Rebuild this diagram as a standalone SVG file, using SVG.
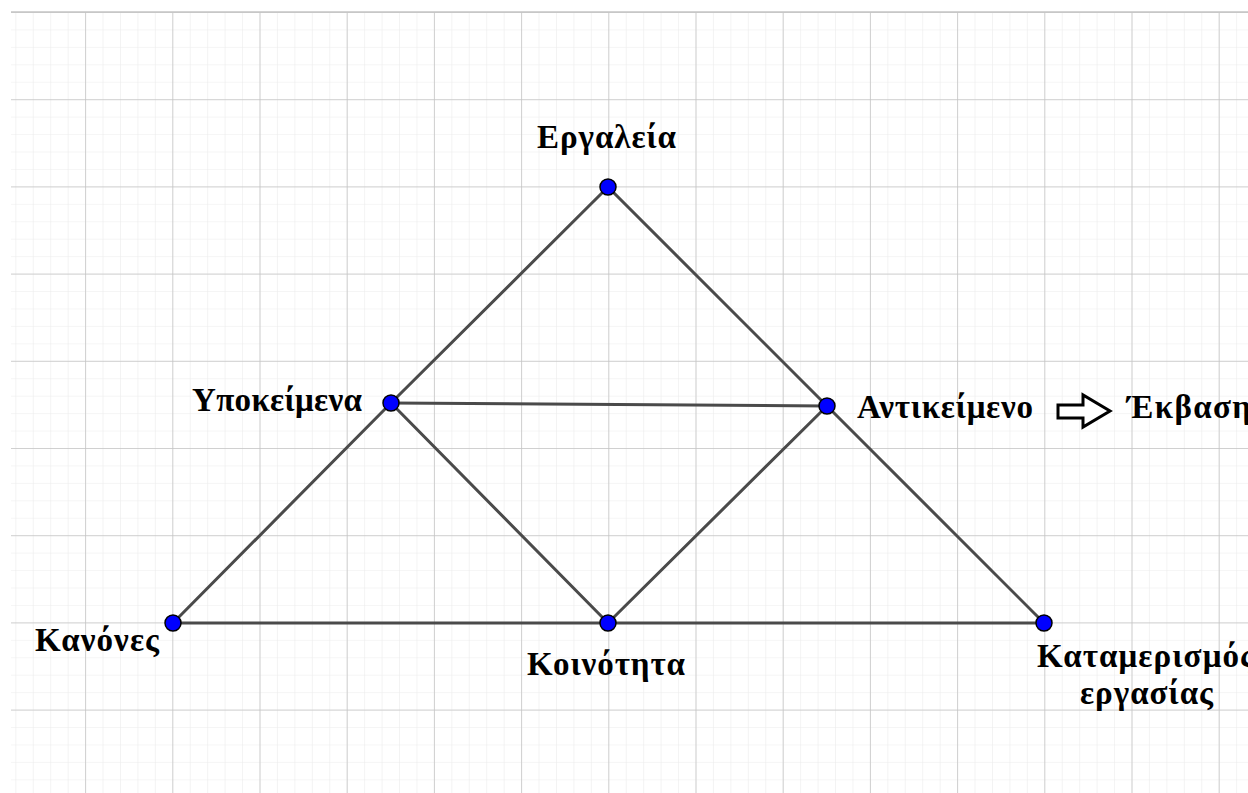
<svg xmlns="http://www.w3.org/2000/svg" width="1248" height="793" viewBox="0 0 1248 793">
<defs>
<pattern id="minor" x="-2.1" y="12" width="17.44" height="17.44" patternUnits="userSpaceOnUse">
<path d="M0 0H17.44M0 0V17.44" fill="none" stroke="#ececec" stroke-width="1.2"/>
</pattern>
<pattern id="major" x="-2.1" y="12" width="87.2" height="87.2" patternUnits="userSpaceOnUse">
<path d="M0 0H87.2M0 0V87.2" fill="none" stroke="#c4c4c4" stroke-width="1.5"/>
</pattern>
</defs>
<style>
.edge{stroke:#4a4a4a;stroke-width:3;fill:none;stroke-linecap:round}
.pt{fill:#0000ff;stroke:#000;stroke-width:1.5}
.lbl{font-family:"Liberation Serif","Times New Roman",serif;font-weight:bold;font-size:33px;fill:#000}
</style>
<rect width="1248" height="793" fill="#fff"/>
<rect x="11" y="12" width="1237" height="781" fill="url(#minor)"/>
<rect x="11" y="12" width="1237" height="781" fill="url(#major)"/>
<line x1="11" y1="12" x2="1248" y2="12" stroke="#c4c4c4" stroke-width="1.5"/>
<g id="connectors">
<line class="edge" x1="608" y1="187" x2="391" y2="403"/>
<line class="edge" x1="391" y1="403" x2="173" y2="623"/>
<line class="edge" x1="608" y1="187" x2="827" y2="406"/>
<line class="edge" x1="827" y1="406" x2="1044" y2="623"/>
<line class="edge" x1="391" y1="403" x2="827" y2="406"/>
<line class="edge" x1="391" y1="403" x2="608" y2="623"/>
<line class="edge" x1="827" y1="406" x2="608" y2="623"/>
<line class="edge" x1="173" y1="623" x2="1044" y2="623"/>
<path d="M1058 405H1083V395L1110 411L1083 427V418H1058Z" fill="#fff" stroke="#000" stroke-width="3" stroke-linejoin="miter"/>
</g>
<g id="n-tools"><circle class="pt" cx="608" cy="187" r="8"/><text class="lbl" x="537" y="148" textLength="139">Εργαλεία</text></g>
<g id="n-subjects"><circle class="pt" cx="391" cy="403" r="8"/><text class="lbl" x="192" y="411" textLength="170">Υποκείμενα</text></g>
<g id="n-object"><circle class="pt" cx="827" cy="406" r="8"/><text class="lbl" x="857" y="418" textLength="176">Αντικείμενο</text></g>
<g id="n-outcome"><text class="lbl" x="1127" y="418" textLength="124">Έκβαση</text></g>
<g id="n-rules"><circle class="pt" cx="173" cy="623" r="8"/><text class="lbl" x="35" y="651" textLength="124">Κανόνες</text></g>
<g id="n-community"><circle class="pt" cx="608" cy="623" r="8"/><text class="lbl" x="527" y="675" textLength="158">Κοινότητα</text></g>
<g id="n-division"><circle class="pt" cx="1044" cy="623" r="8"/><text class="lbl" x="1037" y="667" textLength="217">Καταμερισμός</text><text class="lbl" x="1080" y="704" textLength="133">εργασίας</text></g>
</svg>
